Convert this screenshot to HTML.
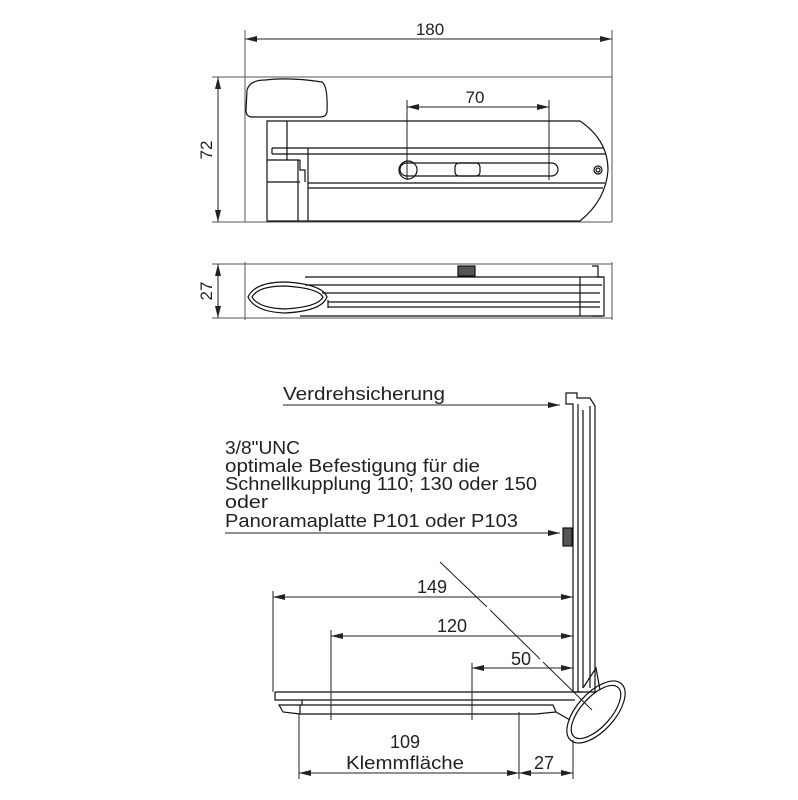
<!DOCTYPE html>
<html><head><meta charset="utf-8"><style>
html,body{margin:0;padding:0;background:#fff;}
svg{display:block;font-family:"Liberation Sans",sans-serif;}
</style></head><body>
<svg width="798" height="800" viewBox="0 0 798 800" xmlns="http://www.w3.org/2000/svg">
<defs>
<marker id="a" viewBox="0 0 12 6" refX="12" refY="3" markerWidth="12" markerHeight="6" orient="auto-start-reverse" markerUnits="userSpaceOnUse"><path d="M0,0 L12,3 L0,6 z" fill="#222"/></marker>
</defs>
<g stroke="#555" stroke-width="1" fill="none">
<line x1="245" y1="30" x2="245" y2="222"/>
<line x1="612" y1="30" x2="612" y2="222"/>
<line x1="212" y1="77" x2="612" y2="77"/>
<line x1="212" y1="222" x2="612" y2="222"/>
<line x1="245" y1="262" x2="245" y2="320"/>
<line x1="612" y1="262" x2="612" y2="320"/>
<line x1="212" y1="264" x2="612" y2="264"/>
<line x1="212" y1="318" x2="612" y2="318"/>
</g>
<g stroke="#222" stroke-width="1" fill="none">
<line x1="245" y1="39" x2="612" y2="39" marker-start="url(#a)" marker-end="url(#a)"/>
<line x1="218" y1="77" x2="218" y2="222" marker-start="url(#a)" marker-end="url(#a)"/>
<line x1="218" y1="264" x2="218" y2="318" marker-start="url(#a)" marker-end="url(#a)"/>
<line x1="407" y1="107" x2="549" y2="107" marker-start="url(#a)" marker-end="url(#a)"/>
<line x1="407" y1="100" x2="407" y2="180"/>
<line x1="549" y1="100" x2="549" y2="180"/>
</g>
<g fill="#222" font-size="17" text-anchor="middle">
<text x="430" y="35">180</text>
<text x="475" y="103">70</text>
<text transform="translate(212,150) rotate(-90)">72</text>
<text transform="translate(212,291) rotate(-90)">27</text>
</g>
<g stroke="#111" stroke-width="1.2" fill="none">
<path d="M247,90 Q250,80 265,80 Q290,77 322,82 Q328,86 327,112 Q326,117 320,117 L252,117 Q246,117 246,110 Z"/>
<path d="M267,121 L580,121 Q608,140 608,170 Q606,200 580,221 L267,221 Z"/>
<line x1="272" y1="148" x2="604" y2="148"/>
<line x1="272" y1="154" x2="606" y2="154"/>
<line x1="272" y1="148" x2="272" y2="154"/>
<line x1="308" y1="148" x2="308" y2="221"/>
<line x1="287" y1="121" x2="287" y2="160"/>
<line x1="267" y1="160" x2="300" y2="160"/>
<line x1="267" y1="182" x2="300" y2="182"/>
<line x1="298" y1="160" x2="298" y2="221"/>
<path d="M300,160 L300,170 L305,170 L305,182"/>
<line x1="308" y1="183" x2="605" y2="183"/>
<line x1="308" y1="188" x2="603" y2="188"/>
<rect x="400" y="163" width="158" height="13" rx="6.5"/>
<circle cx="408" cy="170" r="9"/>
<rect x="455" y="163" width="25" height="13" rx="4"/>
<circle cx="598" cy="170" r="4"/>
<circle cx="598" cy="170" r="2"/>
</g>
<g stroke="#111" stroke-width="1.2" fill="none">
<path d="M248,297 Q255,282 285,282 Q322,284 327,297 Q322,311 285,313 Q255,312 248,297 Z"/>
<path d="M252,297 Q258,286 285,286 Q318,288 323,297 Q318,307 285,309 Q258,308 252,297 Z"/>
<line x1="305" y1="277" x2="602" y2="277"/>
<line x1="305" y1="285" x2="602" y2="285"/>
<line x1="322" y1="293" x2="600" y2="293"/>
<line x1="328" y1="302" x2="600" y2="302"/>
<line x1="328" y1="307" x2="600" y2="307"/>
<line x1="300" y1="316" x2="602" y2="316"/>
<line x1="328" y1="300" x2="328" y2="308"/>
<line x1="580" y1="277" x2="580" y2="316"/>
<path d="M592,266 L598,266 L598,277 L604,277 L604,316 L592,316"/>
<rect x="458" y="266" width="17" height="10" fill="#555"/>
</g>
<!-- bottom view -->
<g stroke="#111" stroke-width="1.2" fill="none">
<path d="M566,404 L566,393 L577,393 L577,398 L590,398 L595,406 L595,692 L573,692 L573,404 Z"/>
<line x1="578" y1="404" x2="578" y2="692"/>
<line x1="583" y1="410" x2="583" y2="688"/>
<line x1="590" y1="406" x2="590" y2="688"/>
<rect x="563" y="528" width="9" height="18" fill="#555"/>
<path d="M583,688 L596,668 L600,690"/>
<path d="M275,692 L583,692"/>
<path d="M275,692 L275,700 L302,700 L302,705"/>
<path d="M279,705 L553,705 L556,712 L536,714 L300,714 L283,712 Z"/>
<line x1="300" y1="705" x2="300" y2="714"/>
<line x1="575" y1="700" x2="302" y2="700"/>
<line x1="556" y1="712" x2="570" y2="720"/>
<ellipse cx="596" cy="712" rx="38" ry="19" transform="rotate(-48 596 712)"/>
<ellipse cx="596" cy="712" rx="33" ry="15" transform="rotate(-48 596 712)"/>
</g>
<g stroke="#222" stroke-width="1" fill="none">
<line x1="283" y1="405" x2="560" y2="405" marker-end="url(#a)"/>
<line x1="225" y1="533" x2="560" y2="533" marker-end="url(#a)"/>
<line x1="273" y1="597" x2="573" y2="597" marker-start="url(#a)" marker-end="url(#a)"/>
<line x1="331" y1="636" x2="573" y2="636" marker-start="url(#a)" marker-end="url(#a)"/>
<line x1="472" y1="668" x2="573" y2="668" marker-start="url(#a)" marker-end="url(#a)"/>
<line x1="299" y1="773" x2="519" y2="773" marker-start="url(#a)" marker-end="url(#a)"/>
<line x1="519" y1="773" x2="573" y2="773" marker-start="url(#a)" marker-end="url(#a)"/>
<line x1="273" y1="591" x2="273" y2="692"/>
<line x1="331" y1="630" x2="331" y2="720"/>
<line x1="472" y1="663" x2="472" y2="720"/>
<line x1="299" y1="714" x2="299" y2="779"/>
<line x1="519" y1="712" x2="519" y2="779"/>
<line x1="573" y1="740" x2="573" y2="779"/>
<path d="M440,562 L487,607 M490,610 L540,659 M543,662 L592,710" />
</g>
<g fill="#222" font-size="18">
<text x="283" y="400" textLength="162" lengthAdjust="spacingAndGlyphs">Verdrehsicherung</text>
<text x="225" y="454" textLength="75" lengthAdjust="spacingAndGlyphs">3/8"UNC</text>
<text x="225" y="472" textLength="255" lengthAdjust="spacingAndGlyphs">optimale Befestigung für die</text>
<text x="225" y="490" textLength="312" lengthAdjust="spacingAndGlyphs">Schnellkupplung 110; 130 oder 150</text>
<text x="225" y="508" textLength="43" lengthAdjust="spacingAndGlyphs">oder</text>
<text x="225" y="527" textLength="293" lengthAdjust="spacingAndGlyphs">Panoramaplatte P101 oder P103</text>
</g>
<g fill="#222" font-size="18" text-anchor="middle">
<text x="432" y="593">149</text>
<text x="452" y="632">120</text>
<text x="521" y="665">50</text>
<text x="405" y="748">109</text>
<text x="405" y="769" textLength="118" lengthAdjust="spacingAndGlyphs">Klemmfläche</text>
<text x="544" y="769">27</text>
</g>
</svg>
</body></html>
